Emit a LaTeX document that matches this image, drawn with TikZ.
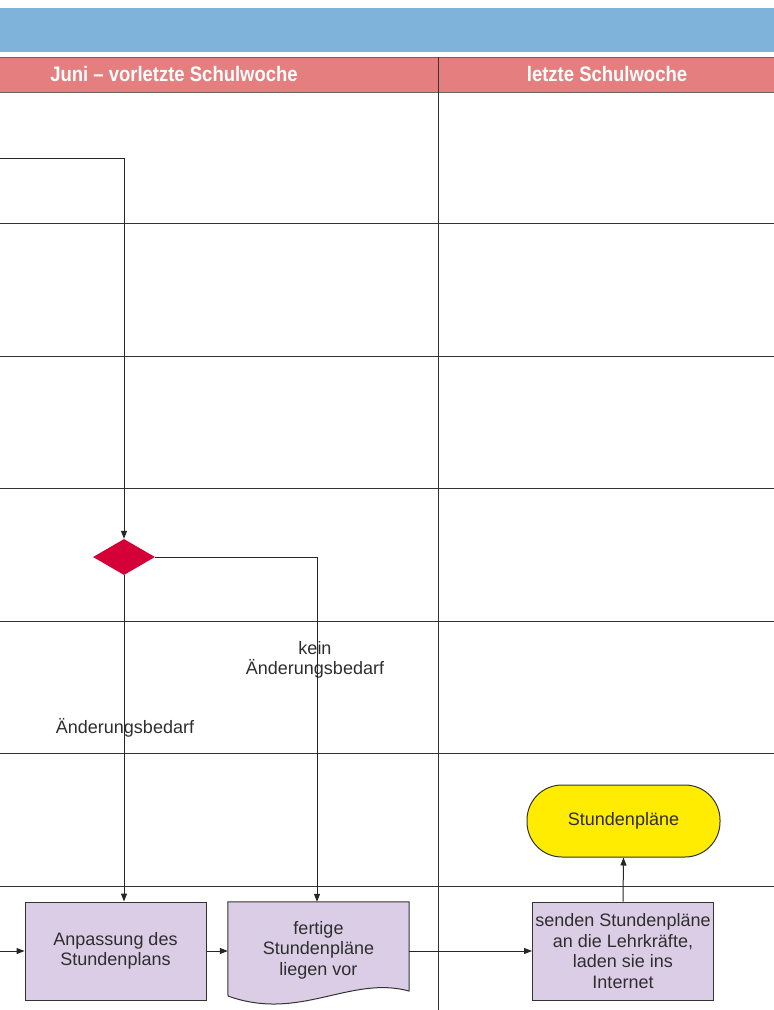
\documentclass[tikz,border=0pt]{standalone}
\usepackage{fontspec}
\setmainfont{Liberation Sans}
\newfontfamily\hdrfont[FakeStretch=0.88]{Liberation Sans}
\usetikzlibrary{shapes.geometric,arrows.meta}
\definecolor{barblue}{HTML}{80B3D9}
\definecolor{hdrred}{HTML}{E57E7E}
\definecolor{boxlila}{HTML}{DCCDE6}
\definecolor{termyel}{HTML}{FFEC00}
\definecolor{diared}{HTML}{D50037}
\definecolor{linegray}{HTML}{333333}
\definecolor{txtgray}{HTML}{2E2E2E}
\tikzset{
  x=1pt, y=-1pt,
  lane/.style={draw=linegray, line width=1pt},
  conn/.style={draw=black!85, line width=1pt},
  arr/.style={conn, -{Triangle[length=8pt,width=6pt]}},
  procbox/.style={draw=linegray, line width=1pt, fill=boxlila, minimum width=181pt, minimum height=98pt, inner sep=2pt, align=center, font=\fontsize{18}{20.5}\selectfont, text=txtgray},
  docbox/.style={minimum width=181pt, minimum height=94pt, inner sep=0pt, align=center, font=\fontsize{18}{20.5}\selectfont, text=txtgray},
  termbox/.style={draw=linegray, line width=1pt, fill=termyel, rounded corners=35pt, minimum width=193pt, minimum height=72pt, font=\fontsize{18}{20.5}\selectfont, text=txtgray},
  decision/.style={diamond, fill=diared, inner sep=0pt, minimum width=62pt, minimum height=36pt},
  lbl/.style={align=center, font=\fontsize{18}{20.5}\selectfont, text=txtgray, inner sep=0pt},
  hdr/.style={font=\hdrfont\bfseries\fontsize{21}{24}\selectfont, text=white, inner sep=0pt}
}
\begin{document}
\begin{tikzpicture}
\useasboundingbox (0,0) rectangle (774,1010);
% blue bar
\fill[barblue] (0,8) rectangle (774,52);
% red header
\fill[hdrred] (0,57) rectangle (774,92);
\draw[draw=black!60, line width=1pt] (0,57) -- (774,57);
\draw[draw=black!60, line width=1pt] (0,92) -- (774,92);
\node[hdr] (h1) at (174,74) {Juni – vorletzte Schulwoche};
\node[hdr] (h2) at (607,74) {letzte Schulwoche};
% lanes
\foreach \yy in {223,356,488,621,753,886} {
  \draw[lane] (0,\yy) -- (774,\yy);
}
\draw[lane] (438,57) -- (438,1010);
% nodes
\node[decision] (dec) at (124,557) {};
\node[procbox] (anp) at (115.5,951) {Anpassung des\\Stundenplans};
\node[docbox] (doc) at (318.5,949) {};
\fill[boxlila, draw=linegray, line width=1pt]
  (doc.north west) -- (doc.north east) -- (409,991)
  .. controls (350,975) and (300,1022) .. (228,996) -- cycle;
\node[docbox] (doctext) at (318.5,950) {fertige\\Stundenpläne\\liegen vor};
\node[procbox] (send) at (623,951) {senden Stundenpläne\\an die Lehrkräfte,\\laden sie ins\\Internet};
\node[termbox] (term) at (623.5,821) {Stundenpläne};
% labels
\node[lbl] (lk) at (315,660) {kein\\Änderungsbedarf};
\node[lbl] (la) at (125,728) {Änderungsbedarf};
% connectors
\coordinate (in1) at (0,158);
\coordinate (in2) at (0,951);
\draw[arr] (in1) -| (dec.north);
\draw[arr] (dec.south) -- (dec.south |- anp.north);
\draw[arr] (dec.east) -| (doc.north -| 317,0);
\draw[arr] (in2) -- (anp.west);
\draw[arr] (anp.east) -- (doc.west |- anp.east);
\draw[arr] (doc.east |- send.west) -- (send.west);
\draw[arr] (send.north) -- (term.south);
\end{tikzpicture}
\end{document}
